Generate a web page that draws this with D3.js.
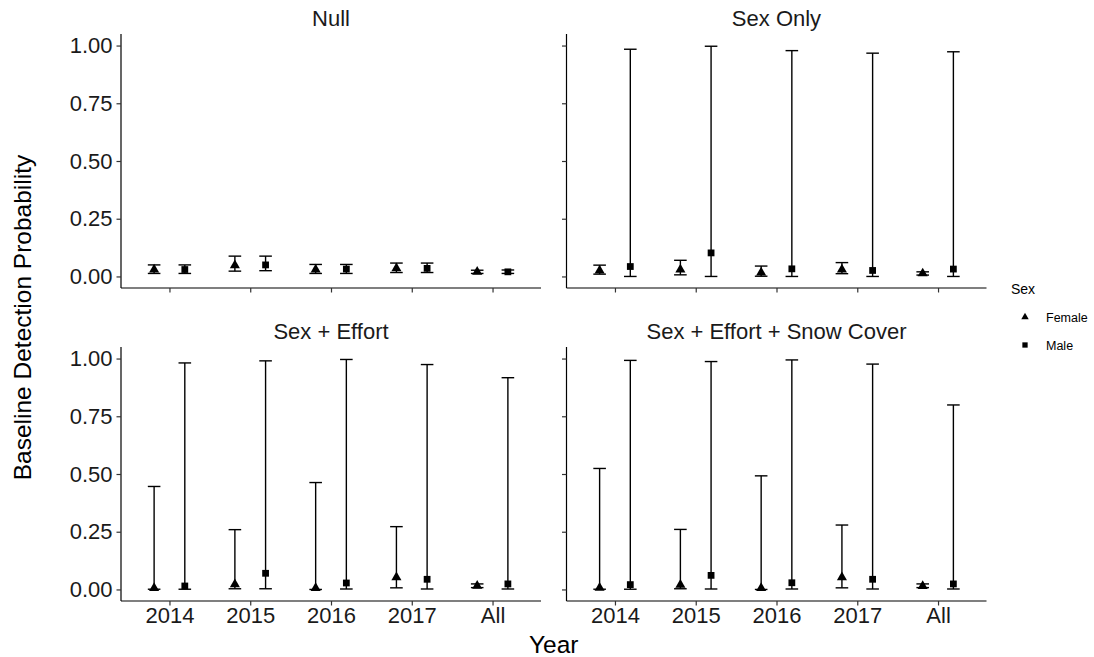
<!DOCTYPE html>
<html>
<head>
<meta charset="utf-8">
<script src="https://cdn.jsdelivr.net/npm/d3@7"></script>
<style>
  html, body { margin: 0; padding: 0; background: #fff; }
  svg { display: block; font-family: "Liberation Sans", Arial, Helvetica, sans-serif; }
</style>
</head>
<body>
<svg id="chart" width="1094" height="657"></svg>
<script>
// Categories
const years = ["2014", "2015", "2016", "2017", "All"];
const models = ["Null", "Sex Only", "Sex + Effort", "Sex + Effort + Snow Cover"];
const sexes = ["Female", "Male"];
const yTicks = [0, 0.25, 0.5, 0.75, 1];

// Null model
const nullFemaleEst = [0.030, 0.048, 0.030, 0.035, 0.020];
const nullFemaleLo  = [0.013, 0.023, 0.013, 0.017, 0.013];
const nullFemaleHi  = [0.050, 0.088, 0.052, 0.058, 0.027];
const nullMaleEst   = [0.030, 0.050, 0.032, 0.035, 0.020];
const nullMaleLo    = [0.013, 0.025, 0.013, 0.017, 0.013];
const nullMaleHi    = [0.050, 0.088, 0.052, 0.058, 0.028];

// Sex only model
const sexFemaleEst = [0.025, 0.030, 0.017, 0.030, 0.013];
const sexFemaleLo  = [0.010, 0.007, 0.001, 0.012, 0.006];
const sexFemaleHi  = [0.049, 0.070, 0.045, 0.060, 0.020];
const sexMaleEst   = [0.043, 0.102, 0.033, 0.026, 0.032];
const sexMaleLo    = [0.000, 0.000, 0.000, 0.000, 0.000];
const sexMaleHi    = [0.984, 0.997, 0.978, 0.967, 0.973];

// Sex + effort model
const effFemaleEst = [0.006, 0.022, 0.006, 0.053, 0.016];
const effFemaleLo  = [0.001, 0.003, 0.000, 0.007, 0.008];
const effFemaleHi  = [0.446, 0.259, 0.463, 0.272, 0.024];
const effMaleEst   = [0.015, 0.070, 0.028, 0.044, 0.024];
const effMaleLo    = [0.001, 0.003, 0.002, 0.002, 0.002];
const effMaleHi    = [0.981, 0.990, 0.996, 0.974, 0.917];

// Sex + effort + snow cover model
const snowFemaleEst = [0.007, 0.020, 0.006, 0.053, 0.015];
const snowFemaleLo  = [0.001, 0.003, 0.000, 0.007, 0.008];
const snowFemaleHi  = [0.524, 0.260, 0.492, 0.279, 0.024];
const snowMaleEst   = [0.021, 0.061, 0.029, 0.044, 0.024];
const snowMaleLo    = [0.001, 0.002, 0.002, 0.002, 0.002];
const snowMaleHi    = [0.992, 0.987, 0.994, 0.976, 0.799];

const panelSeries = [
  { Female: [nullFemaleEst, nullFemaleLo, nullFemaleHi], Male: [nullMaleEst, nullMaleLo, nullMaleHi] },
  { Female: [sexFemaleEst, sexFemaleLo, sexFemaleHi],    Male: [sexMaleEst, sexMaleLo, sexMaleHi] },
  { Female: [effFemaleEst, effFemaleLo, effFemaleHi],    Male: [effMaleEst, effMaleLo, effMaleHi] },
  { Female: [snowFemaleEst, snowFemaleLo, snowFemaleHi], Male: [snowMaleEst, snowMaleLo, snowMaleHi] }
];

const svg = d3.select("#chart");

const panelW = 420, panelH = 254;
const colX = [121, 566.5];
const rowY = [34, 347];

const x = d3.scalePoint().domain(years).range([0, panelW]).padding(0.6);
const step = x.step();
const dodge = d3.scalePoint().domain(sexes).range([-0.19 * step, 0.19 * step]);
const y = d3.scaleLinear().domain([-0.05, 1.05]).range([panelH, 0]);
const capHalf = 6.3;

const shape = {
  Female: d3.symbol().type(d3.symbolTriangle).size(44),
  Male: d3.symbol().type(d3.symbolSquare).size(46)
};

models.forEach((m, i) => {
  const col = i % 2, row = Math.floor(i / 2);
  const g = svg.append("g").attr("transform", `translate(${colX[col]},${rowY[row]})`);

  // facet strip title
  svg.append("text")
    .attr("x", colX[col] + panelW / 2)
    .attr("y", rowY[row] - 8.5)
    .attr("text-anchor", "middle")
    .attr("font-size", 22)
    .attr("fill", "#1a1a1a")
    .text(m);

  // y axis
  const yAxis = g.append("g").call(
    d3.axisLeft(y).tickValues(yTicks).tickSize(4.5).tickPadding(4)
      .tickFormat(col === 0 ? d3.format(".2f") : () => "")
  );
  // x axis
  const xAxis = g.append("g").attr("transform", `translate(0,${panelH})`).call(
    d3.axisBottom(x).tickSize(4.5).tickPadding(1.5)
      .tickFormat(row === 1 ? d => d : () => "")
  );
  [yAxis, xAxis].forEach(ax => {
    ax.select(".domain").attr("stroke", "#000").attr("stroke-width", 1.2);
    ax.selectAll(".tick line").attr("stroke", "#333").attr("stroke-width", 1.2);
    ax.selectAll(".tick text").attr("fill", "#1a1a1a").attr("font-size", 22)
      .attr("font-family", "'Liberation Sans', Arial, sans-serif");
  });
  // plain axis lines without the end stubs
  yAxis.select(".domain").attr("d", `M0,${panelH}V0`);
  xAxis.select(".domain").attr("d", `M0,0H${panelW}`);

  const series = panelSeries[i];
  sexes.forEach(s => {
    const [est, lo, hi] = series[s];
    const data = years.map((yr, k) => ({ yr, est: est[k], lo: lo[k], hi: hi[k] }));
    const eb = g.append("g").attr("stroke", "#000").attr("stroke-width", 1.4).attr("fill", "none");
    data.forEach(d => {
      const cx = x(d.yr) + dodge(s);
      eb.append("line").attr("x1", cx).attr("x2", cx).attr("y1", y(d.lo)).attr("y2", y(d.hi));
      eb.append("line").attr("x1", cx - capHalf).attr("x2", cx + capHalf).attr("y1", y(d.hi)).attr("y2", y(d.hi));
      eb.append("line").attr("x1", cx - capHalf).attr("x2", cx + capHalf).attr("y1", y(d.lo)).attr("y2", y(d.lo));
    });
    g.append("g").selectAll("path").data(data).join("path")
      .attr("d", shape[s]())
      .attr("fill", "#000")
      .attr("transform", d => `translate(${x(d.yr) + dodge(s)},${y(d.est)})`);
  });
});

// axis titles
svg.append("text")
  .attr("x", (colX[0] + colX[1] + panelW) / 2)
  .attr("y", 653)
  .attr("text-anchor", "middle")
  .attr("font-size", 24.5)
  .attr("fill", "#000")
  .text("Year");

svg.append("text")
  .attr("transform", `translate(31,${(rowY[0] + rowY[1] + panelH) / 2}) rotate(-90)`)
  .attr("text-anchor", "middle")
  .attr("font-size", 24.5)
  .attr("fill", "#000")
  .text("Baseline Detection Probability");

// legend
const legend = svg.append("g").attr("transform", "translate(1011,0)");
legend.append("text").attr("x", 0).attr("y", 294).attr("font-size", 14).attr("fill", "#000").text("Sex");
const legendShape = {
  Female: d3.symbol().type(d3.symbolTriangle).size(24),
  Male: d3.symbol().type(d3.symbolSquare).size(28)
};
sexes.forEach((s, k) => {
  const cy = 317 + k * 28;
  legend.append("path").attr("d", legendShape[s]()).attr("fill", "#000")
    .attr("transform", `translate(14,${cy})`);
  legend.append("text").attr("x", 35).attr("y", cy + 4.5).attr("font-size", 12.5).attr("fill", "#000").text(s);
});
</script>
</body>
</html>
